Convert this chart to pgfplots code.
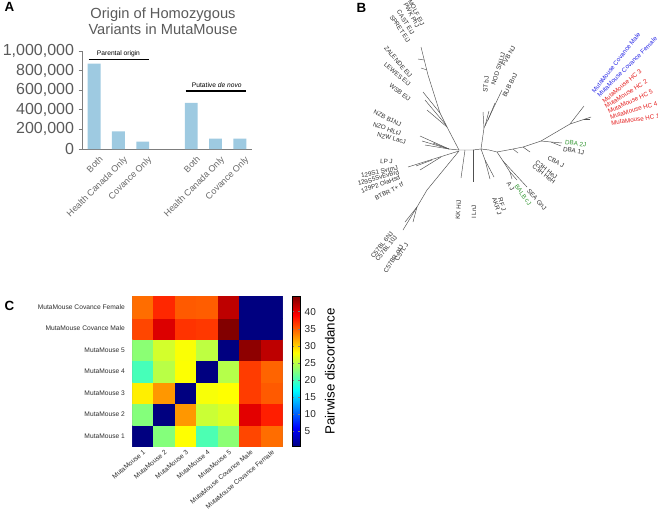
\documentclass[border=0pt]{standalone}
\usepackage{fontspec}
\setmainfont{Liberation Sans}
\usepackage{pgfplots}
\pgfplotsset{compat=1.18}
\definecolor{barblue}{RGB}{158,202,225}
\definecolor{tgray}{RGB}{90,90,90}
\definecolor{xgray}{RGB}{105,105,105}
\definecolor{agray}{RGB}{125,125,125}
\definecolor{treegray}{RGB}{80,80,80}
\definecolor{lab}{RGB}{45,45,45}
\definecolor{tgreen}{RGB}{50,150,50}
\definecolor{tblue}{RGB}{40,40,230}
\definecolor{tred}{RGB}{228,30,30}
\pgfplotsset{
  tree/.style={draw=treegray, line width=0.35pt, no markers},
}
\tikzset{tl/.style={font=\fontsize{4.7}{5}\selectfont, text=lab, inner sep=0pt}}
\begin{document}
\begin{tikzpicture}
\useasboundingbox (0,0) rectangle (493.5pt,384pt);

% ---------------- Panel A ----------------
\node[anchor=base west, font=\bfseries\fontsize{10}{12}\selectfont] at (0pt,375pt) {A};
\node[anchor=base, text=tgray, font=\fontsize{11}{13}\selectfont] at (122.25pt,370.3pt) {Origin of Homozygous};
\node[anchor=base, text=tgray, font=\fontsize{11}{13}\selectfont] at (122.25pt,357.75pt) {Variants in MutaMouse};
\begin{axis}[
  at={(61.5pt,272.25pt)}, anchor=south west,
  scale only axis, width=127.5pt, height=73.5pt,
  xmin=-0.5, xmax=6.5, ymin=0, ymax=1000000,
  axis lines=left, axis line style={-, draw=agray, line width=0.6pt},
  xtick={0,1,2,4,5,6},
  xticklabels={Both, Health Canada Only, Covance Only, Both, Health Canada Only, Covance Only},
  xtick style={draw=none},
  ytick={0,200000,400000,600000,800000,1000000},
  ytick style={draw=agray, line width=0.6pt},
  tick align=outside, major tick length=2.5pt,
  scaled y ticks=false,
  /pgf/number format/assume math mode=true,
  /pgf/number format/fixed,
  /pgf/number format/1000 sep={,},
  yticklabel style={font=\fontsize{12}{14}\selectfont, text=tgray},
  xticklabel style={rotate=45, anchor=north east, font=\fontsize{6.75}{8}\selectfont, text=xgray, inner sep=1pt, xshift=2pt, yshift=-3pt},
  clip=false,
]
\addplot[ybar, bar width=0.53, fill=barblue, draw=none, bar shift=0pt]
  coordinates {(0,870000) (1,180000) (2,75000) (4,470000) (5,105000) (6,105000)};
\draw[black, line width=0.8pt] (axis cs:-0.23,915000) -- (axis cs:2.25,915000);
\node[font=\fontsize{5}{6}\selectfont, anchor=base] at (axis cs:1.0,955000) {Parental origin};
\draw[black, line width=0.8pt] (axis cs:3.77,592000) -- (axis cs:6.25,592000);
\node[font=\fontsize{5}{6}\selectfont, anchor=base] at (axis cs:5.05,632000) {Putative \textit{de novo}};
\end{axis}

% ---------------- Panel B ----------------
\node[anchor=base west, font=\bfseries\fontsize{10}{12}\selectfont] at (264pt,374.25pt) {B};
\begin{axis}[
  at={(247.5pt,196.5pt)}, anchor=south west,
  scale only axis, width=246pt, height=187.5pt,
  xmin=330, xmax=658, ymin=0, ymax=250, y dir=reverse,
  hide axis, clip=false,
]
% backbone
\addplot[tree] coordinates {(459,150) (465,150) (473,150) (481,149) (489,150) (497,152)};
% upper-left clade
\addplot[tree] coordinates {(459,150) (447,127) (440,113) (428,75) (421,47)};
\addplot[tree] coordinates {(424,60) (418,59)};
\addplot[tree] coordinates {(427,70) (421,68)};
\addplot[tree] coordinates {(440,113) (423,92)};
\addplot[tree] coordinates {(446,125) (425,100)};
\addplot[tree] coordinates {(447,127) (427,110)};
% NZ clade
\addplot[tree] coordinates {(459,150) (449,149)};
\addplot[tree] coordinates {(449,149) (420,136)};
\addplot[tree] coordinates {(449,149) (422,141)};
\addplot[tree] coordinates {(449,149) (425,145)};
\addplot[tree] coordinates {(449,149) (433,143)};
% LP / 129 clade
\addplot[tree] coordinates {(459,151) (408,167)};
\addplot[tree] coordinates {(441,157) (420,170)};
\addplot[tree] coordinates {(432,160) (416,166)};
% C57 clade
\addplot[tree] coordinates {(459,151) (427,190) (417,207) (403,230)};
\addplot[tree] coordinates {(417,207) (405,222)};
\addplot[tree] coordinates {(417,207) (413,222)};
% bottom centre
\addplot[tree] coordinates {(465,150) (461,178)};
\addplot[tree] coordinates {(473,150) (473,182)};
\addplot[tree] coordinates {(481,149) (485,160) (490,179)};
\addplot[tree] coordinates {(485,160) (494,177)};
% upper centre
\addplot[tree] coordinates {(481,149) (484,128) (502,90)};
\addplot[tree] coordinates {(484,128) (483,112)};
\addplot[tree] coordinates {(485,126) (489,111)};
\addplot[tree] coordinates {(488,120) (495,103)};
% lower-right clade
\addplot[tree] coordinates {(497,152) (503,161) (527,187)};
\addplot[tree] coordinates {(503,161) (510,172) (512,179)};
\addplot[tree] coordinates {(510,172) (517,180)};
% right backbone
\addplot[tree] coordinates {(497,152) (513,149) (523,147) (541,141) (570,124)};
\addplot[tree] coordinates {(570,124) (577,115) (584,106)};
\addplot[tree] coordinates {(570,124) (591,117)};
\addplot[tree] coordinates {(584,119) (590,119)};
\addplot[tree] coordinates {(513,149) (518,153)};
\addplot[tree] coordinates {(523,147) (530,152)};
\addplot[tree] coordinates {(541,141) (551,142) (562,143)};
\addplot[tree] coordinates {(551,142) (561,146)};
% labels
\node[tl, anchor=east, rotate=-62] at (axis cs:423,25) {MOLF EiJ};
\node[tl, anchor=east, rotate=-62] at (axis cs:418,27) {PWK PhJ};
\node[tl, anchor=east, rotate=-58] at (axis cs:413,34) {CAST EiJ};
\node[tl, anchor=east, rotate=-56] at (axis cs:409,42) {SPRET EiJ};
\node[tl, anchor=east, rotate=-50] at (axis cs:411,77) {ZALENDE EiJ};
\node[tl, anchor=east, rotate=-40] at (axis cs:410,85) {LEWES EiJ};
\node[tl, anchor=east, rotate=-38] at (axis cs:410,100) {WSB EiJ};
\node[tl, anchor=east, rotate=-26] at (axis cs:401,125) {NZB B1NJ};
\node[tl, anchor=east, rotate=-20] at (axis cs:401,134) {NZO HlLtJ};
\node[tl, anchor=east, rotate=-14] at (axis cs:406,142) {NZW LacJ};
\node[tl, anchor=east, rotate=-4] at (axis cs:393,162) {LP J};
\node[tl, anchor=east, rotate=12] at (axis cs:398,168) {129S1 SvImJ};
\node[tl, anchor=east, rotate=16] at (axis cs:399,172) {129S5SvEvBrd};
\node[tl, anchor=east, rotate=20] at (axis cs:400,177) {129P2 OlaHsd};
\node[tl, anchor=east, rotate=28] at (axis cs:403,184) {BTBR T+ tf};
\node[tl, anchor=east, rotate=52] at (axis cs:392,232) {C57BL 6NJ};
\node[tl, anchor=east, rotate=52] at (axis cs:396,236) {C57BL 10J};
\node[tl, anchor=east, rotate=58] at (axis cs:402,245) {C57BR cdJ};
\node[tl, anchor=east, rotate=58] at (axis cs:407,243) {C57L J};
\node[tl, anchor=east, rotate=86] at (axis cs:459,200) {KK HiJ};
\node[tl, anchor=east, rotate=90] at (axis cs:474,205) {I LnJ};
\node[tl, anchor=west, rotate=-72] at (axis cs:500,198) {RF J};
\node[tl, anchor=west, rotate=-72] at (axis cs:494,198) {AKR J};
\node[tl, anchor=west, rotate=-58] at (axis cs:508,182) {A J};
\node[tl, anchor=west, rotate=-55, text=tgreen] at (axis cs:516,185) {BALB cJ};
\node[tl, anchor=west, rotate=-48] at (axis cs:528,190) {SEA GnJ};
\node[tl, anchor=west, rotate=-37] at (axis cs:533,166) {C3H HeH};
\node[tl, anchor=west, rotate=-37] at (axis cs:536,162) {C3H HeJ};
\node[tl, anchor=west, rotate=-30] at (axis cs:548,157) {CBA J};
\node[tl, anchor=west, rotate=-10] at (axis cs:563,149) {DBA 1J};
\node[tl, anchor=west, rotate=-8, text=tgreen] at (axis cs:565,142) {DBA 2J};
\node[tl, anchor=west, rotate=84] at (axis cs:485,93) {ST bJ};
\node[tl, anchor=west, rotate=72] at (axis cs:493,85) {NOD ShiLtJ};
\node[tl, anchor=west, rotate=60] at (axis cs:503,66) {FVB NJ};
\node[tl, anchor=west, rotate=63] at (axis cs:504,97) {BUB BnJ};
\node[tl, anchor=west, rotate=52, text=tblue] at (axis cs:593,92) {MutaMouse Covance Male};
\node[tl, anchor=west, rotate=45, text=tblue] at (axis cs:598,96) {MutaMouse Covance Female};
\node[tl, anchor=west, rotate=40, text=tred] at (axis cs:603,102) {MutaMouse HC 3};
\node[tl, anchor=west, rotate=32, text=tred] at (axis cs:605,107) {MutaMouse HC 2};
\node[tl, anchor=west, rotate=25, text=tred] at (axis cs:608,112) {MutaMouse HC 5};
\node[tl, anchor=west, rotate=16, text=tred] at (axis cs:610,117) {MutaMouse HC 4};
\node[tl, anchor=west, rotate=8, text=tred] at (axis cs:611,123) {MutaMouse HC 1};
\end{axis}

% ---------------- Panel C ----------------
\node[anchor=base west, font=\bfseries\fontsize{10}{12}\selectfont] at (0pt,151.5pt) {C};
\begin{axis}[
  at={(99.2pt,48.98pt)}, anchor=south west,
  scale only axis, width=112.8pt, height=112.8pt,
  xmin=-0.5, xmax=6.5, ymin=-0.5, ymax=6.5, enlargelimits=false,
  xtick={0,...,6}, ytick={0,...,6},
  xticklabels={MutaMouse 1, MutaMouse 2, MutaMouse 3, MutaMouse 4, MutaMouse 5, MutaMouse Covance Male, MutaMouse Covance Female},
  yticklabels={MutaMouse 1, MutaMouse 2, MutaMouse 3, MutaMouse 4, MutaMouse 5, MutaMouse Covance Male, MutaMouse Covance Female},
  xticklabel style={rotate=40, anchor=north east, font=\fontsize{5}{6}\selectfont, text=lab, inner sep=1.5pt},
  yticklabel style={font=\fontsize{5}{6}\selectfont, text=lab, xshift=-2pt},
  tick align=inside, major tick length=1.5pt, tick style={draw=agray, line width=0.4pt},
  axis line style={draw=agray, line width=0.5pt},
  colormap/jet,
  point meta min=0.5, point meta max=44.5,
  colorbar,
  colorbar shift/.style={xshift=7.2pt},
  colorbar style={
    at={(parent axis.north east)}, anchor=north west,
    width=5.8pt,
    ytick={5,10,...,40},
    /pgf/number format/assume math mode=true,
    yticklabel style={font=\fontsize{7.5}{9}\selectfont, text=black!85},
    major tick length=1.5pt,
    ylabel={Pairwise discordance},
    ylabel style={font=\fontsize{10}{12}\selectfont},
    axis line style={line width=0.4pt},
  },
]
\addplot[matrix plot*, mesh/cols=7, point meta=explicit] table[meta=c] {
x y c
0 0 0.5
1 0 22.7
2 0 28
3 0 20.3
4 0 23
5 0 36
6 0 34.3
0 1 22.7
1 1 0.5
2 1 32.5
3 1 25.7
4 1 26.5
5 1 40.2
6 1 37.7
0 2 28.7
1 2 32.5
2 2 0.5
3 2 27.7
4 2 28
5 2 36.4
6 2 35.1
0 3 20
1 3 25
2 3 27.9
3 3 0.5
4 3 24.8
5 3 36.4
6 3 34.7
0 4 23
1 4 26.1
2 4 27.8
3 4 25.2
4 4 0.5
5 4 43.9
6 4 41.8
0 5 36
1 5 40.5
2 5 36.8
3 5 36.6
4 5 44.4
5 5 0.5
6 5 0.5
0 6 34.3
1 6 37.3
2 6 35.1
3 6 35
4 6 41.8
5 6 0.5
6 6 0.5
};
\end{axis}
\end{tikzpicture}
\end{document}
